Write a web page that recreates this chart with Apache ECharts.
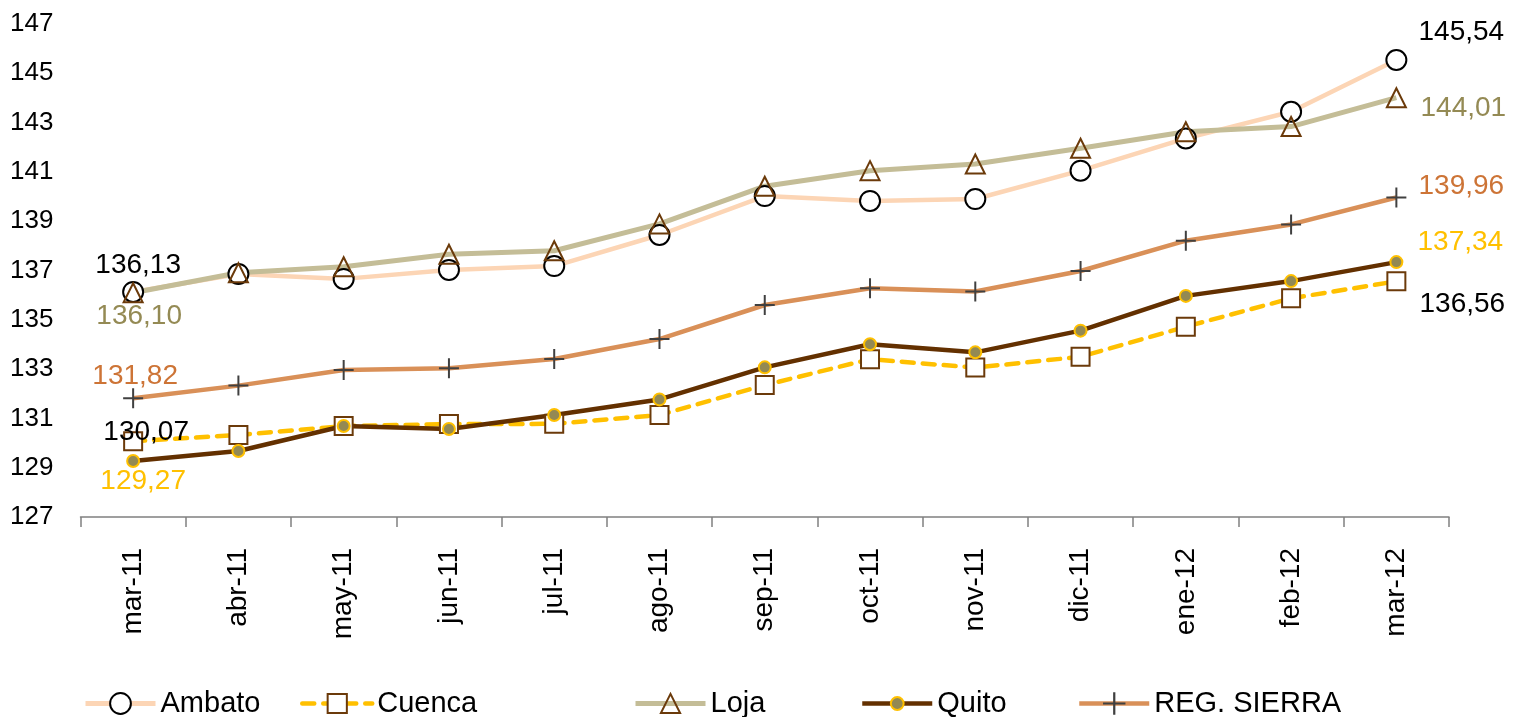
<!DOCTYPE html>
<html>
<head>
<meta charset="utf-8">
<script src="https://cdn.jsdelivr.net/npm/echarts@6/dist/echarts.min.js"></script>
<style>html,body{margin:0;padding:0;background:#fff;}#c{width:1514px;height:717px;}</style>
</head>
<body>
<div id="c"></div>
<script>
const categories = ['mar-11','abr-11','may-11','jun-11','jul-11','ago-11','sep-11','oct-11','nov-11','dic-11','ene-12','feb-12','mar-12'];
const yTicks = [127,129,131,133,135,137,139,141,143,145,147];
const ambato = [136.13,136.86,136.66,137.02,137.18,138.44,140.02,139.82,139.90,141.05,142.36,143.44,145.54];
const cuenca = [130.07,130.33,130.69,130.77,130.78,131.14,132.35,133.40,133.06,133.50,134.72,135.87,136.56];
const loja   = [136.10,136.91,137.15,137.66,137.80,138.89,140.42,141.05,141.32,141.96,142.63,142.84,144.01];
const quito  = [129.27,129.68,130.69,130.57,131.14,131.77,133.07,134.01,133.68,134.56,135.97,136.57,137.34];
const sierra = [131.82,132.33,132.96,133.03,133.41,134.22,135.60,136.28,136.15,136.98,138.21,138.87,139.96];
const names = ['Ambato','Cuenca','Loja','Quito','REG. SIERRA'];

const FONT = 'Liberation Sans';
const fmt = v => v.toFixed(2).replace('.', ',');
function withLabels(values, color, startOff, endOff) {
  const last = values.length - 1;
  return values.map((v, i) => {
    if (i === 0 || i === last) {
      return { value: v, label: { show: true, position: 'inside', offset: i === 0 ? startOff : endOff,
        formatter: p => fmt(p.value), color: color, fontSize: 28, fontFamily: FONT } };
    }
    return v;
  });
}

const plusPath = 'path://M9,0H11V9H20V11H11V20H9V11H0V9H9Z';

const chart = echarts.init(document.getElementById('c'));
const legendLefts = [83, 300, 633, 860, 1077];
const legendIconH = [26, 24, 24, 16, 28];
const legendLineW = [5, 4.5, 5, 4.5, 4.5];
const legendCenterY = 706;
chart.setOption({
  animation: false,
  backgroundColor: '#fff',
  grid: { left: 80.5, right: 65, top: 24, bottom: 200, containLabel: false },
  legend: names.map((n, i) => ({
    data: [n], left: legendLefts[i], top: legendCenterY - 17, padding: 0,
    itemWidth: 70, itemHeight: legendIconH[i], itemGap: 10,
    lineStyle: { width: legendLineW[i] },
    textStyle: { fontSize: 29, fontFamily: FONT, color: '#000' }
  })),
  xAxis: {
    type: 'category', data: categories, boundaryGap: true,
    axisLine: { lineStyle: { color: '#808080', width: 1.5 } },
    axisTick: { show: true, length: 10, lineStyle: { color: '#808080', width: 1.5 } },
    axisLabel: { rotate: 90, margin: 31, fontSize: 28, fontFamily: FONT, color: '#000' },
    splitLine: { show: false }
  },
  yAxis: {
    type: 'value', min: yTicks[0], max: yTicks[yTicks.length - 1], interval: 2,
    axisLine: { show: false }, axisTick: { show: false }, splitLine: { show: false },
    axisLabel: { margin: 27, fontSize: 26, fontFamily: FONT, color: '#000' }
  },
  series: [
    { name: names[0], type: 'line', data: withLabels(ambato, '#000', [5, -27], [65, -28]),
      lineStyle: { color: '#FCD5B5', width: 4.5 }, symbol: 'circle', symbolSize: 20,
      itemStyle: { color: '#fff', borderColor: '#000', borderWidth: 2 } },
    { name: names[1], type: 'line', data: withLabels(cuenca, '#000', [13, -9], [66, 23]),
      lineStyle: { color: '#FFC000', width: 4.5, type: [12, 9], cap: 'round' }, symbol: 'rect', symbolSize: 18,
      itemStyle: { color: '#fff', borderColor: '#6B3A0A', borderWidth: 2 } },
    { name: names[2], type: 'line', data: withLabels(loja, '#948A54', [6, 24], [67, 11]),
      lineStyle: { color: '#C4BD97', width: 5 }, symbol: 'triangle', symbolSize: 19,
      itemStyle: { color: 'rgba(255,255,255,0)', borderColor: '#6B3A0A', borderWidth: 2 } },
    { name: names[3], type: 'line', data: withLabels(quito, '#FFC000', [10, 20], [64, -20]),
      lineStyle: { color: '#633000', width: 4.5 }, symbol: 'circle', symbolSize: 12,
      itemStyle: { color: '#938953', borderColor: '#FFC000', borderWidth: 2 } },
    { name: names[4], type: 'line', data: withLabels(sierra, '#CD7436', [2, -22], [65, -11]),
      lineStyle: { color: '#D99058', width: 4.5 }, symbol: plusPath, symbolSize: 20,
      itemStyle: { color: '#404040' } }
  ]
});
</script>
</body>
</html>
